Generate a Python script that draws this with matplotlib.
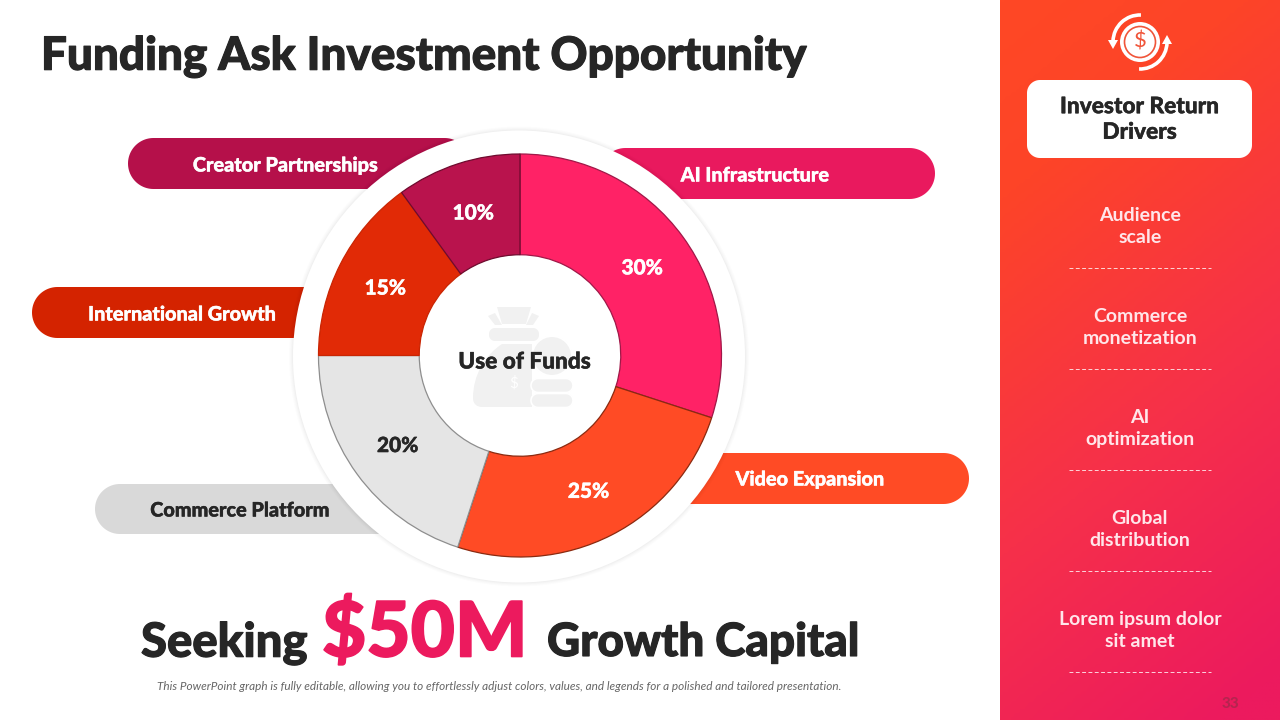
import numpy as np
import matplotlib
matplotlib.use("Agg")
import matplotlib.pyplot as plt
import matplotlib.patheffects as pe
from matplotlib.patches import Circle, Arc, Polygon, PathPatch
from matplotlib.path import Path
from matplotlib.colors import LinearSegmentedColormap

plt.rcParams['font.family'] = ['Lato', 'DejaVu Sans']

# Data
categories = ["AI Infrastructure", "Video Expansion", "Commerce Platform",
              "International Growth", "Creator Partnerships"]
shares = [30, 25, 20, 15, 10]
slice_colors = ["#FF2266", "#FF4B25", "#E5E5E5", "#E12A06", "#B9134D"]
edge_colors = ["#A01848", "#8A2A10", "#8E8E8E", "#C92503", "#6E0B2E"]
pct_colors = ["white", "white", "#262626", "white", "white"]
drivers = ["Audience\nscale", "Commerce\nmonetization", "AI\noptimization",
           "Global\ndistribution", "Lorem ipsum dolor\nsit amet"]
DARK = "#262626"

W, H = 1280, 720
fig = plt.figure(figsize=(12.8, 7.2), dpi=100, facecolor="white")
bg = fig.add_axes([0, 0, 1, 1])
bg.set_xlim(0, W)
bg.set_ylim(H, 0)
bg.axis("off")


def fat(txt, c, w=0.7):
    txt.set_path_effects([pe.withStroke(linewidth=w, foreground=c)])
    return txt


def rrect(ax, x0, x1, y0, y1, r, color, zorder=2, **kw):
    a = np.linspace(0, np.pi / 2, 24)
    pts = []
    for cx, cy, start in [(x1 - r, y0 + r, -np.pi / 2), (x1 - r, y1 - r, 0),
                          (x0 + r, y1 - r, np.pi / 2), (x0 + r, y0 + r, np.pi)]:
        pts += [(cx + r * np.cos(start + t), cy + r * np.sin(start + t)) for t in a]
    ax.add_patch(Polygon(pts, closed=True, fc=color, zorder=zorder, **({"ec": "none"} | kw)))


# Gradient panel
yy, xx = np.mgrid[0:1:200j, 0:1:100j]
t = np.clip(0.80 * yy + 0.25 * xx, 0, 1)
cmap = LinearSegmentedColormap.from_list(
    "panel", [(0, "#FF4825"), (0.22, "#FD4428"), (0.62, "#F6304A"), (1, "#EC1A5E")])
bg.imshow(t, extent=(1000, 1280, 720, 0), cmap=cmap, vmin=0, vmax=1, aspect="auto", zorder=1)
bg.set_xlim(0, W)
bg.set_ylim(H, 0)

# Title
fat(bg.text(41, 57, "Funding Ask Investment Opportunity", fontsize=33, fontweight="black",
            color=DARK, ha="left", va="center"), DARK, 0.8)

# Pills
rrect(bg, 128, 470, 138, 189, 25.5, "#B5104A")
rrect(bg, 600, 935, 148, 199, 25.5, "#E9195E")
rrect(bg, 32, 340, 287, 338, 25.5, "#D42300")
rrect(bg, 660, 969, 453, 504, 25.5, "#FF4B25")
rrect(bg, 95, 420, 484, 534, 25, "#D9D9D9")
pill_text = [(285.5, 165, categories[4], "white"), (755, 175, categories[0], "white"),
             (182, 314, categories[3], "white"), (810, 479, categories[1], "white"),
             (240, 510, categories[2], DARK)]
for x, y, s, c in pill_text:
    fat(bg.text(x, y, s, fontsize=14.3, fontweight="black", color=c, ha="center", va="center", zorder=6), c, 0.3)

# White halo with soft edge
for r, a in [(230, 0.010), (229, 0.012), (228, 0.015), (227, 0.02)]:
    bg.add_patch(Circle((519, 356.5), r, fc="black", ec="none", alpha=a, zorder=3))
bg.add_patch(Circle((519, 356.5), 226, fc="white", ec="none", zorder=3))

# Donut
R = 201.5
size = R * 2.5
pie_ax = fig.add_axes([(520 - size / 2) / W, 1 - (355.5 + size / 2) / H, size / W, size / H], zorder=5)
pie_ax.patch.set_alpha(0)
wedges, _, autotexts = pie_ax.pie(
    shares, colors=slice_colors, startangle=90, counterclock=False, radius=1,
    autopct=lambda p: f"{p:.0f}%", pctdistance=0.75,
    wedgeprops=dict(width=0.5, linewidth=0.9),
    textprops=dict(fontsize=15, fontweight="black"))
for w, e in zip(wedges, edge_colors):
    w.set_edgecolor(e)
for txt, c in zip(autotexts, pct_colors):
    txt.set_color(c)
    fat(txt, c, 0.3)
    x, y = txt.get_position()
    txt.set_position((x, y - 0.006))

# Centre icon (money bag + coins)
over = fig.add_axes([0, 0, 1, 1], zorder=6)
over.set_xlim(0, W)
over.set_ylim(H, 0)
over.axis("off")
G = "#F1F1F1"
over.add_patch(Polygon([(497, 307), (531, 307), (526, 324), (502, 324)], fc=G, ec="none"))
over.add_patch(Polygon([(488, 316), (495, 313), (502, 325), (495, 325)], fc=G, ec="none"))
over.add_patch(Polygon([(539, 316), (532, 313), (526, 325), (533, 325)], fc=G, ec="none"))
rrect(over, 489, 539, 328, 341, 6, G)
body = Path([(502, 344), (485, 355), (473, 375), (473, 398), (473, 404), (477, 407), (482, 407),
             (532, 407), (532, 407), (532, 407), (532, 344), (532, 344), (502, 344)],
            [Path.MOVETO, Path.CURVE4, Path.CURVE4, Path.CURVE4, Path.CURVE4, Path.CURVE4, Path.CURVE4,
             Path.LINETO, Path.LINETO, Path.LINETO, Path.LINETO, Path.LINETO, Path.CLOSEPOLY])
over.add_patch(PathPatch(body, fc=G, ec="none"))
over.add_patch(Circle((552, 356), 20, fc=G, ec="white", lw=1.5))
rrect(over, 531, 573, 378.5, 392.5, 7, G, ec="white", lw=1.2)
rrect(over, 531, 573, 393.5, 407.5, 7, G, ec="white", lw=1.2)
over.text(514, 383, "$", fontsize=11, color="white", ha="center", va="center")
fat(over.text(524.5, 362, "Use of Funds", fontsize=16.3, fontweight="black", color=DARK,
              ha="center", va="center"), DARK, 0.3)

# Headline
fat(bg.text(141, 643, "Seeking", fontsize=34, fontweight="black", color=DARK, ha="left", va="center"), DARK, 0.8)
fat(bg.text(322, 634, "$50M", fontsize=55, fontweight="black", color="#EC1A5E", ha="left", va="center"), "#EC1A5E", 1.2)
fat(bg.text(547, 643, "Growth Capital", fontsize=33, fontweight="black", color=DARK, ha="left", va="center"), DARK, 0.8)
bg.text(499, 687, "This PowerPoint graph is fully editable, allowing you to effortlessly adjust colors, "
        "values, and legends for a polished and tailored presentation.",
        fontsize=8.43, style="italic", color="#666666", ha="center", va="center")

# Panel icon
cx, cy = 1140, 42
bg.add_patch(Circle((cx, cy), 20, fc="white", ec="none", zorder=4))
bg.add_patch(Circle((cx, cy), 15.5, fc="none", ec="#F0553A", lw=1.2, zorder=4))
bg.text(cx, cy, "$", fontsize=16, color="#F0553A", ha="center", va="center", zorder=5)
bg.add_patch(Arc((cx, cy), 54, 54, theta1=182, theta2=272, ec="white", lw=2.6, zorder=4))
bg.add_patch(Arc((cx, cy), 54, 54, theta1=2, theta2=92, ec="white", lw=2.6, zorder=4))
bg.add_patch(Polygon([(1108, 40), (1118, 40), (1113, 49)], fc="white", ec="none", zorder=4))
bg.add_patch(Polygon([(1162, 44), (1172, 44), (1167, 35)], fc="white", ec="none", zorder=4))

# Panel card
rrect(bg, 1027, 1252, 80, 158, 13, "white", zorder=4)
fat(bg.text(1139.5, 119.5, "Investor Return\nDrivers", fontsize=16.3, fontweight="black", color=DARK,
            ha="center", va="center", linespacing=1.27, zorder=5), DARK, 0.3)

# Drivers
for i, d in enumerate(drivers):
    y = 226.5 + 101 * i
    bg.text(1140, y, d, fontsize=14, fontweight="bold", color="#FFE6EA", ha="center", va="center",
            linespacing=1.3, zorder=5)
    bg.plot([1069, 1211], [y + 41, y + 41], color="white", lw=0.7, ls=(0, (4, 2.5)), alpha=0.8, zorder=5)

bg.text(1230, 703.5, "33", fontsize=11, fontweight="black", color="#B5244F", ha="center", va="center", zorder=5)

fig.savefig("out.png", dpi=100)
